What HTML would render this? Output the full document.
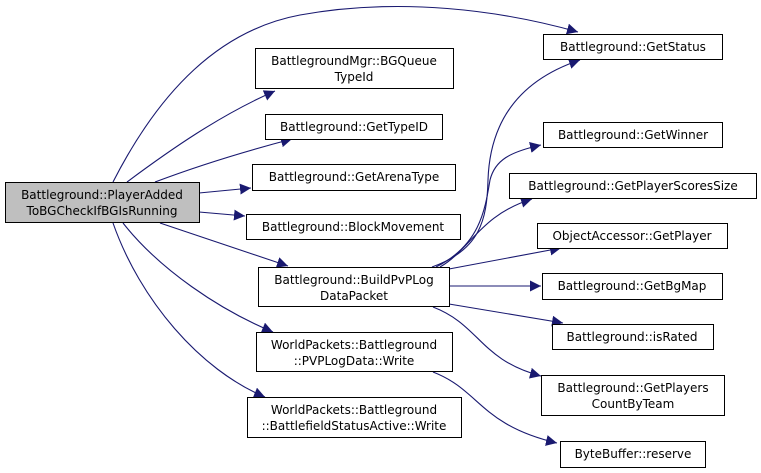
<!DOCTYPE html>
<html><head><meta charset="utf-8"><style>
html,body{margin:0;padding:0;background:#fff;}
svg{display:block}
text{font-family:"DejaVu Sans","Liberation Sans",sans-serif;font-size:12px;fill:#000;}
</style></head><body>
<svg width="761" height="473" viewBox="0 0 761 473" xmlns="http://www.w3.org/2000/svg">
<defs>
<marker id="a" viewBox="0 0 10 10" refX="10" refY="5" markerWidth="11" markerHeight="11" markerUnits="userSpaceOnUse" orient="auto">
<path d="M0,0 L10,5 L0,10 z" fill="#191970"/>
</marker>
</defs>
<g fill="none" stroke="#191970" stroke-width="1.1" marker-end="url(#a)">
<path d="M113,182 C160,90 220,30 300,15 C400,-3 500,10 578,32"/>
<path d="M127,182 C170,150 220,115 275,91"/>
<path d="M155,182 C200,165 250,150 292,139"/>
<path d="M199,193 L251,188"/>
<path d="M199,212 L245,216"/>
<path d="M160,223 L288,266"/>
<path d="M123,223 C160,270 220,310 273,332"/>
<path d="M113,223 C140,300 200,370 265,397"/>
<path d="M432,267 C480,250 487,220 488,180 C490,120 520,80 580,60"/>
<path d="M436,267 C480,245 485,210 490,180 C495,160 510,152 541,145"/>
<path d="M440,267 C470,250 480,215 532,199"/>
<path d="M449,269 L561,248"/>
<path d="M449,286 L541,286"/>
<path d="M449,304 L563,323"/>
<path d="M433,307 C480,325 480,360 541,376"/>
<path d="M433,372 C480,390 480,425 557,443"/>
</g>
<g stroke="#000" stroke-width="1">
<rect x="5.5" y="182.5" width="194" height="40" fill="#bfbfbf"/>
<g fill="#fff">
<rect x="255.5" y="48.5" width="198" height="40"/>
<rect x="265.5" y="114.5" width="177" height="25"/>
<rect x="252.5" y="164.5" width="203" height="26"/>
<rect x="246.5" y="214.5" width="214" height="25"/>
<rect x="258.5" y="267.5" width="191" height="39"/>
<rect x="256.5" y="332.5" width="196" height="39"/>
<rect x="247.5" y="397.5" width="214" height="40"/>
<rect x="543.5" y="34.5" width="179" height="25"/>
<rect x="543.5" y="122.5" width="179" height="25"/>
<rect x="509.5" y="173.5" width="247" height="25"/>
<rect x="537.5" y="223.5" width="190" height="25"/>
<rect x="542.5" y="273.5" width="180" height="26"/>
<rect x="552.5" y="324.5" width="161" height="25"/>
<rect x="541.5" y="375.5" width="183" height="40"/>
<rect x="560.5" y="441.5" width="145" height="26"/>
</g></g>
<g text-anchor="middle">
<text x="102" y="199">Battleground::PlayerAdded</text>
<text x="102" y="215">ToBGCheckIfBGIsRunning</text>
<text x="354" y="65">BattlegroundMgr::BGQueue</text>
<text x="354" y="81">TypeId</text>
<text x="354" y="131">Battleground::GetTypeID</text>
<text x="354" y="181">Battleground::GetArenaType</text>
<text x="353" y="231">Battleground::BlockMovement</text>
<text x="354" y="284">Battleground::BuildPvPLog</text>
<text x="354" y="300">DataPacket</text>
<text x="354" y="349">WorldPackets::Battleground</text>
<text x="354" y="365">::PVPLogData::Write</text>
<text x="354" y="414">WorldPackets::Battleground</text>
<text x="354" y="430">::BattlefieldStatusActive::Write</text>
<text x="633" y="51">Battleground::GetStatus</text>
<text x="633" y="139">Battleground::GetWinner</text>
<text x="633" y="190">Battleground::GetPlayerScoresSize</text>
<text x="632" y="240">ObjectAccessor::GetPlayer</text>
<text x="632" y="290">Battleground::GetBgMap</text>
<text x="632" y="341">Battleground::isRated</text>
<text x="633" y="392">Battleground::GetPlayers</text>
<text x="633" y="408">CountByTeam</text>
<text x="633" y="458">ByteBuffer::reserve</text>
</g>
</svg>
</body></html>
